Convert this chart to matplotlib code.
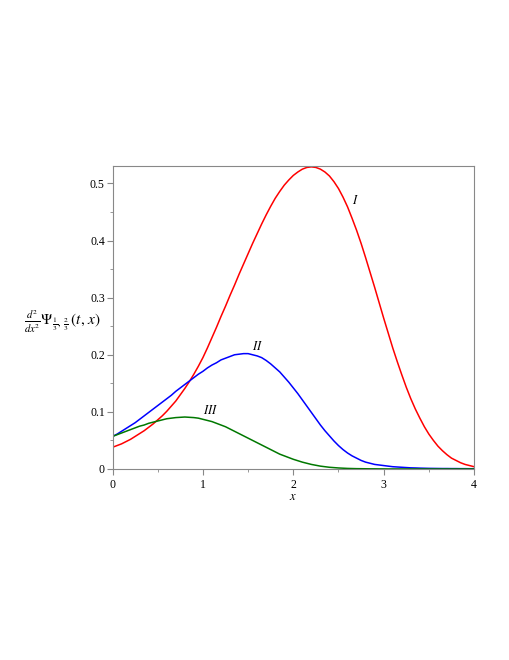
import numpy as np
import matplotlib
matplotlib.use('Agg')
import matplotlib.pyplot as plt
from matplotlib.ticker import MultipleLocator

# values, one every 0.05 on x (0 .. 4)
x = np.arange(81) * 0.05

curve_I = [0.038, 0.041, 0.044, 0.048, 0.052, 0.057, 0.062, 0.067, 0.073, 0.079,
           0.086, 0.093, 0.101, 0.110, 0.119, 0.130, 0.141, 0.153, 0.166, 0.180,
           0.195, 0.212, 0.230, 0.248, 0.267, 0.285, 0.304, 0.322, 0.341, 0.359,
           0.377, 0.395, 0.412, 0.429, 0.445, 0.460, 0.474, 0.486, 0.497, 0.506,
           0.514, 0.520, 0.525, 0.528, 0.529, 0.528, 0.525, 0.520, 0.513, 0.503,
           0.491, 0.476, 0.459, 0.439, 0.418, 0.395, 0.370, 0.344, 0.318, 0.291,
           0.264, 0.238, 0.212, 0.188, 0.165, 0.143, 0.123, 0.105, 0.089, 0.074,
           0.061, 0.050, 0.040, 0.032, 0.025, 0.019, 0.015, 0.011, 0.008, 0.006,
           0.004]

curve_II = [0.057, 0.061, 0.066, 0.071, 0.076, 0.081, 0.087, 0.093, 0.099, 0.105,
            0.111, 0.117, 0.123, 0.129, 0.136, 0.142, 0.148, 0.154, 0.160, 0.166,
            0.171, 0.177, 0.182, 0.186, 0.191, 0.194, 0.197, 0.200, 0.201, 0.202,
            0.202, 0.200, 0.198, 0.195, 0.190, 0.184, 0.177, 0.170, 0.161, 0.152,
            0.142, 0.132, 0.121, 0.110, 0.099, 0.088, 0.077, 0.067, 0.058, 0.049,
            0.041, 0.034, 0.028, 0.023, 0.019, 0.015, 0.012, 0.010, 0.008, 0.007,
            0.006, 0.005, 0.004, 0.0035, 0.003, 0.0025, 0.002, 0.0018, 0.0015, 0.0013,
            0.0011, 0.001, 0.0009, 0.0008, 0.0008, 0.0007, 0.0007, 0.0006, 0.0006, 0.0005,
            0.0005]

curve_III = [0.057, 0.060, 0.063, 0.066, 0.069, 0.072, 0.075, 0.077, 0.080, 0.082,
             0.084, 0.086, 0.088, 0.089, 0.090, 0.0905, 0.091, 0.0905, 0.090, 0.089,
             0.087, 0.085, 0.083, 0.080, 0.077, 0.074, 0.070, 0.066, 0.062, 0.058,
             0.054, 0.050, 0.046, 0.042, 0.038, 0.034, 0.030, 0.026, 0.023, 0.020,
             0.017, 0.0145, 0.012, 0.010, 0.008, 0.0065, 0.005, 0.004, 0.003, 0.0024,
             0.0018, 0.0014, 0.001, 0.0008, 0.0006, 0.0005, 0.0004, 0.0003, 0.0003, 0.0002,
             0.0002, 0.0001, 0.0001, 0.0001, 0.0001, 0.0001, 0.0001, 0.0001, 0.0001, 0.0001,
             0.0001, 0.0001, 0.0001, 0.0001, 0.0001, 0.0001, 0.0001, 0.0001, 0.0001, 0.0001,
             0.0001]

labels = ['$I$', '$II$', '$III$']
label_pos = [(2.69, 0.47), (1.6, 0.215), (1.09, 0.102)]

plt.rcParams['font.family'] = 'Liberation Serif'
plt.rcParams['mathtext.fontset'] = 'stix'

fig = plt.figure(figsize=(5.1, 6.6), dpi=100)
ax = fig.add_axes([0.2206, 0.2894, 0.709, 0.4595])

ax.plot(x, curve_I, color='#ff0000', lw=1.1)
ax.plot(x, curve_II, color='#0000ff', lw=1.1)
ax.plot(x, curve_III, color='#007800', lw=1.1)

for t, (px, py) in zip(labels, label_pos):
    ax.text(px, py, t, fontsize=9, ha='center', va='center')

ax.set_xlim(0, 4)
ax.set_ylim(0, 0.531)
ax.xaxis.set_major_locator(MultipleLocator(1))
ax.xaxis.set_minor_locator(MultipleLocator(0.5))
ax.yaxis.set_minor_locator(MultipleLocator(0.05))
ax.set_yticks([0, 0.1, 0.2, 0.3, 0.4, 0.5])
ax.set_yticklabels(['0', '0.1', '0.2', '0.3', '0.4', '0.5'])

for s in ax.spines.values():
    s.set_color('#888888')
ax.tick_params(which='both', colors='#888888', labelcolor='black', labelsize=8.5)
ax.tick_params(which='major', length=4)
ax.tick_params(which='minor', length=2.5)
ax.tick_params(axis='y', pad=1.5)

ax.set_xlabel('$x$', fontsize=9, labelpad=0)
fig.text(0.122, 0.512,
         r'$\frac{d^2}{dx^2}\Psi_{\frac{1}{3},\,\frac{2}{3}}\,(t,\,x)$',
         fontsize=11, ha='center', va='center')

fig.savefig('out.png', dpi=100)
